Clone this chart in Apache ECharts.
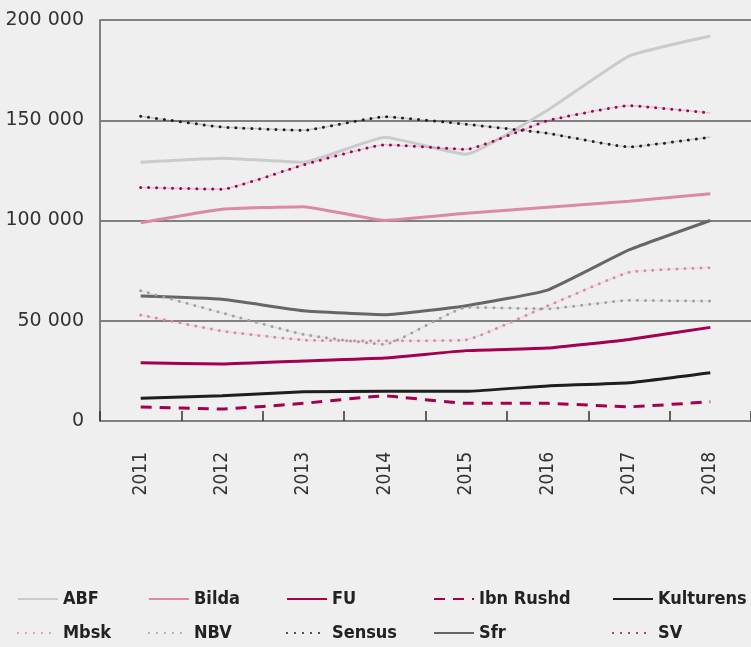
<!DOCTYPE html>
<html>
<head>
<meta charset="utf-8">
<script src="https://cdn.jsdelivr.net/npm/echarts@6.0.0/dist/echarts.min.js"></script>
<style>
  html, body { margin: 0; padding: 0; background: #efefef; }
  #chart { width: 751px; height: 647px; }
</style>
</head>
<body>
<div id="chart"></div>
<script>
// --- Data ---
const years = ['2011', '2012', '2013', '2014', '2015', '2016', '2017', '2018'];

const abf       = [129000, 131000, 129000, 141500, 133000, 155000, 182000, 192000];
const bilda     = [98900, 105600, 106900, 100000, 103600, 106600, 109600, 113400];
const fu        = [29100, 28400, 29900, 31400, 35100, 36400, 40700, 46700];
const ibnRushd  = [7000, 6000, 8800, 12500, 8800, 8800, 7100, 9600];
const kulturens = [11300, 12600, 14600, 14800, 14800, 17500, 19100, 24100];
const mbsk      = [52900, 44900, 40400, 40000, 40500, 57400, 74200, 76500];
const nbv       = [65000, 53900, 43200, 38200, 56700, 56000, 60200, 59800];
const sensus    = [152000, 146600, 145000, 151800, 148000, 143500, 136700, 141600];
const sfr       = [62300, 60700, 55000, 53000, 57500, 65300, 85300, 100000];
const sv        = [116500, 115600, 127800, 137800, 135500, 149800, 157300, 153600];

const yTicks = [0, 50000, 100000, 150000, 200000];

// --- Styles ---
const CRIMSON = '#a3004f';
const PINK = '#dc8aa2';
const DOT = [0, 8];
const SMOOTH = 0.12;

const seriesDefs = [
    { name: 'ABF', data: abf, color: '#cbcbcb', type: 'solid' },
    { name: 'Bilda', data: bilda, color: PINK, type: 'solid' },
    { name: 'FU', data: fu, color: CRIMSON, type: 'solid' },
    { name: 'Ibn Rushd', data: ibnRushd, color: CRIMSON, type: [11, 8] },
    { name: 'Kulturens', data: kulturens, color: '#1e1e1e', type: 'solid' },
    { name: 'Mbsk', data: mbsk, color: PINK, type: DOT, dotted: true },
    { name: 'NBV', data: nbv, color: '#a0a0a0', type: DOT, dotted: true },
    { name: 'Sensus', data: sensus, color: '#1e1e1e', type: DOT, dotted: true },
    { name: 'Sfr', data: sfr, color: '#666666', type: 'solid' },
    { name: 'SV', data: sv, color: CRIMSON, type: DOT, dotted: true }
];

// legend grid positions (icon left edge)
const legendCols = [17, 148, 286, 433, 612];
const legendRows = [590, 624];

const fmt = (v) => String(v).replace(/\B(?=(\d{3})+(?!\d))/g, ' ');

const chart = echarts.init(document.getElementById('chart'));

const legends = seriesDefs.map((s, i) => ({
    data: [s.name],
    left: legendCols[i % 5],
    top: legendRows[Math.floor(i / 5)],
    padding: 0,
    itemWidth: 40,
    itemHeight: 14,
    itemGap: 6,
    selectedMode: false,
    itemStyle: { opacity: 0 },
    textStyle: {
        fontFamily: '"DejaVu Sans Condensed", sans-serif',
        fontWeight: 'bold',
        fontSize: 18,
        color: '#222'
    }
}));

const series = [];
seriesDefs.forEach((s) => {
    // dotted lines in the original have a faint thin line under the dots
    if (s.dotted) {
        series.push({
            name: s.name + ' (underlay)',
            type: 'line',
            data: s.data,
            smooth: SMOOTH,
            symbol: 'none',
            silent: true,
            lineStyle: { color: s.color, width: 1.5, opacity: 0.18 },
            z: 2
        });
    }
    series.push({
        name: s.name,
        type: 'line',
        data: s.data,
        smooth: SMOOTH,
        symbol: 'none',
        showSymbol: false,
        silent: true,
        itemStyle: { color: s.color },
        lineStyle: {
            color: s.color,
            width: 3,
            type: s.type,
            cap: s.dotted ? 'round' : 'butt'
        },
        z: s.dotted ? 3 : 2
    });
});

const option = {
    backgroundColor: '#efefef',
    animation: false,
    grid: { left: 100, top: 20, right: 0, bottom: 226, outerBoundsMode: 'none', containLabel: false },
    legend: legends,
    xAxis: {
        type: 'category',
        data: years,
        boundaryGap: true,
        axisLine: { lineStyle: { color: '#808080', width: 2 } },
        axisTick: { show: true, inside: true, length: 10, lineStyle: { color: '#333', width: 1.5 } },
        axisLabel: {
            rotate: 90,
            margin: 31,
            fontFamily: '"DejaVu Sans Condensed", sans-serif',
            fontSize: 19,
            color: '#333'
        }
    },
    yAxis: {
        type: 'value',
        min: yTicks[0],
        max: yTicks[yTicks.length - 1],
        interval: 50000,
        axisLine: { show: true, lineStyle: { color: '#808080', width: 2 } },
        axisTick: { show: false },
        splitLine: { show: true, lineStyle: { color: '#808080', width: 2 } },
        axisLabel: {
            formatter: fmt,
            margin: 16,
            fontFamily: '"DejaVu Sans", sans-serif',
            fontSize: 19,
            color: '#333',
            padding: [0, 0, 5, 0]
        }
    },
    series: series
};

chart.setOption(option);
</script>
</body>
</html>
